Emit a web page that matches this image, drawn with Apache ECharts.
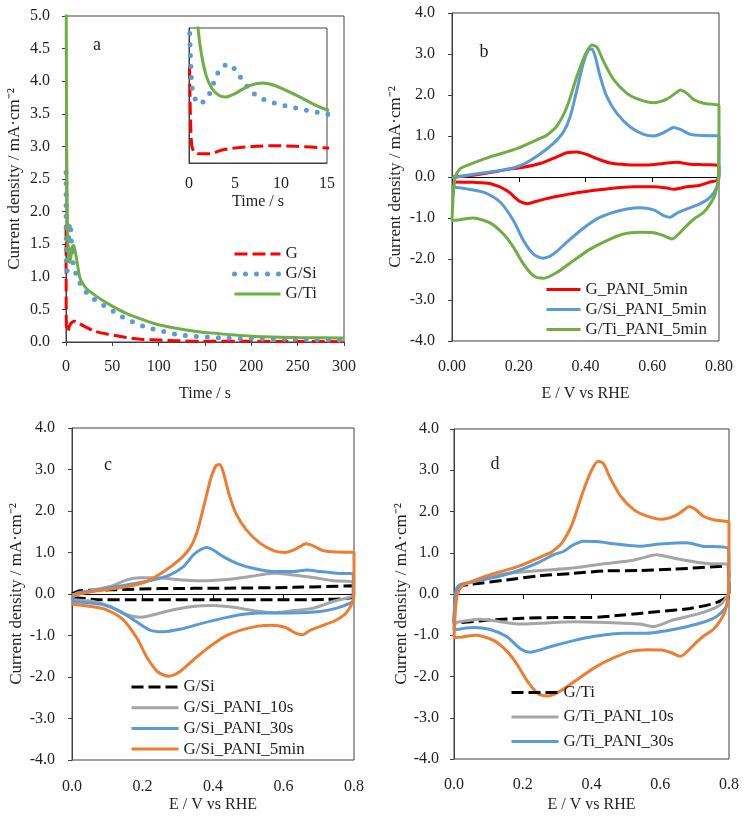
<!DOCTYPE html>
<html><head><meta charset="utf-8">
<script src="https://cdn.jsdelivr.net/npm/echarts@6.0.0/dist/echarts.min.js"></script>
<style>html,body{margin:0;padding:0;background:#fff}#c{width:745px;height:817px}</style>
</head><body><div id="c"></div>
<script>
// ---------- Panel a: chronoamperometry (time s, current mA/cm2) ----------
const gCA = [[0.05,1.8],[0.15,0.9],[0.3,0.32],[0.6,0.2],[1.1,0.17],[2.2,0.17],[3.6,0.24],[5.1,0.28],[7.3,0.31],[9.5,0.32],[11.6,0.31],[14.9,0.28],[20,0.24],[30,0.17],[45,0.12],[65,0.07],[83,0.04],[101,0.03],[119,0.02],[145,0.01],[200,0.01],[300,0.005]];
const siCA = [[0.05,2.6],[0.15,2.0],[0.3,1.46],[0.5,1.25],[1.1,1.09],[2.0,1.21],[2.5,1.40],[2.9,1.58],[3.5,1.77],[4.45,1.83],[5.26,1.66],[5.99,1.50],[6.72,1.33],[7.7,1.21],[8.84,1.13],[10.0,1.08],[11.2,1.03],[12.4,0.99],[13.6,0.95],[14.8,0.91],[18.7,0.81],[27.7,0.69],[37.4,0.58],[45.7,0.53],[54.7,0.43],[65.5,0.35],[76.3,0.28],[87.8,0.22],[99.6,0.18],[111.5,0.14],[123,0.11],[135.6,0.09],[146,0.08],[175,0.06],[200,0.05],[250,0.04],[300,0.03]];
const tiCA = [[0.1,6.0],[0.5,3.6],[0.98,2.5],[1.34,2.03],[1.9,1.6],[2.5,1.38],[3.2,1.26],[3.97,1.22],[5.06,1.29],[6.5,1.43],[8.0,1.48],[9.4,1.43],[11.6,1.26],[13.4,1.10],[14.9,0.99],[17,0.92],[22,0.82],[33,0.70],[47.5,0.57],[65,0.44],[83.5,0.34],[101,0.26],[119,0.21],[137,0.17],[155,0.14],[200,0.09],[250,0.07],[300,0.06]];
const caXTicks = [0,300,50];
const insetXTicks = [0,15,5];

// ---------- CV curves (E / V vs RHE, current mA/cm2) ----------
const gPani5 = [[0,0],[0.064,0.04],[0.164,0.18],[0.214,0.24],[0.264,0.33],[0.314,0.49],[0.344,0.59],[0.374,0.61],[0.404,0.55],[0.434,0.45],[0.474,0.34],[0.524,0.30],[0.584,0.29],[0.634,0.33],[0.674,0.36],[0.714,0.31],[0.754,0.30],[0.8,0.28],
  [0.8,0.08],[0.794,-0.08],[0.774,-0.12],[0.744,-0.2],[0.704,-0.24],[0.664,-0.3],[0.644,-0.27],[0.604,-0.24],[0.544,-0.24],[0.464,-0.29],[0.384,-0.37],[0.304,-0.49],[0.254,-0.59],[0.226,-0.65],[0.204,-0.6],[0.164,-0.33],[0.114,-0.16],[0.064,-0.13],[0,-0.12]];
const siPani5 = [[0,-0.02],[0.064,0.065],[0.164,0.19],[0.214,0.31],[0.264,0.56],[0.304,0.82],[0.334,1.10],[0.354,1.47],[0.374,2.12],[0.394,2.79],[0.409,3.10],[0.419,3.12],[0.429,2.94],[0.444,2.45],[0.464,1.96],[0.494,1.55],[0.534,1.22],[0.574,1.04],[0.604,1.0],[0.634,1.08],[0.664,1.21],[0.684,1.16],[0.714,1.04],[0.754,1.01],[0.8,1.0],
  [0.8,0.0],[0.794,-0.24],[0.774,-0.49],[0.744,-0.65],[0.704,-0.78],[0.674,-0.88],[0.654,-0.98],[0.634,-0.94],[0.604,-0.8],[0.564,-0.75],[0.524,-0.78],[0.484,-0.86],[0.434,-1.02],[0.384,-1.31],[0.344,-1.59],[0.304,-1.88],[0.274,-1.98],[0.244,-1.88],[0.214,-1.55],[0.184,-1.06],[0.144,-0.61],[0.094,-0.37],[0.044,-0.29],[0,-0.24]];
const tiPani5 = [[0,-1.06],[0.004,-0.41],[0.01,0.0],[0.024,0.20],[0.044,0.28],[0.114,0.49],[0.194,0.69],[0.264,0.94],[0.284,1.02],[0.314,1.24],[0.344,1.70],[0.374,2.45],[0.399,2.98],[0.419,3.22],[0.434,3.17],[0.454,2.82],[0.484,2.38],[0.524,2.04],[0.564,1.88],[0.604,1.81],[0.644,1.90],[0.669,2.04],[0.684,2.12],[0.704,2.04],[0.724,1.89],[0.754,1.80],[0.796,1.76],[0.8,1.73],
  [0.798,0.0],[0.789,-0.41],[0.774,-0.65],[0.754,-0.86],[0.729,-1.0],[0.704,-1.18],[0.684,-1.35],[0.659,-1.51],[0.634,-1.43],[0.604,-1.36],[0.564,-1.35],[0.514,-1.39],[0.464,-1.55],[0.414,-1.76],[0.364,-2.04],[0.314,-2.33],[0.274,-2.47],[0.244,-2.41],[0.214,-2.12],[0.184,-1.71],[0.154,-1.39],[0.114,-1.12],[0.064,-1.0],[0.024,-1.04],[0,-1.06]];
const siBare = [[0,0],[0.023,0.08],[0.108,0.10],[0.25,0.13],[0.439,0.14],[0.628,0.16],[0.798,0.20],
  [0.798,-0.06],[0.722,-0.13],[0.533,-0.14],[0.344,-0.14],[0.155,-0.14],[0.061,-0.13],[0,-0.08]];
const siPani10 = [[0,-0.06],[0.061,0.10],[0.108,0.18],[0.155,0.34],[0.193,0.39],[0.240,0.39],[0.297,0.35],[0.363,0.32],[0.439,0.35],[0.505,0.42],[0.571,0.50],[0.628,0.46],[0.685,0.40],[0.741,0.32],[0.798,0.28],
  [0.798,-0.02],[0.741,-0.18],[0.685,-0.34],[0.628,-0.40],[0.571,-0.45],[0.514,-0.40],[0.458,-0.32],[0.401,-0.28],[0.344,-0.30],[0.287,-0.38],[0.231,-0.50],[0.193,-0.56],[0.155,-0.50],[0.108,-0.30],[0.061,-0.18],[0,-0.14]];
const siPani30 = [[0,-0.14],[0.013,0.02],[0.061,0.08],[0.155,0.22],[0.231,0.34],[0.278,0.46],[0.316,0.66],[0.344,0.94],[0.363,1.06],[0.382,1.12],[0.401,1.06],[0.429,0.90],[0.467,0.74],[0.514,0.62],[0.571,0.54],[0.628,0.54],[0.666,0.58],[0.704,0.54],[0.751,0.50],[0.798,0.48],
  [0.798,-0.14],[0.789,-0.22],[0.751,-0.34],[0.704,-0.42],[0.647,-0.45],[0.590,-0.46],[0.533,-0.46],[0.477,-0.5],[0.42,-0.6],[0.363,-0.72],[0.306,-0.85],[0.259,-0.91],[0.221,-0.87],[0.183,-0.67],[0.136,-0.42],[0.089,-0.26],[0.042,-0.21],[0,-0.18]];
const tiBare = [[0,-0.71],[0.005,0.0],[0.017,0.18],[0.056,0.24],[0.153,0.34],[0.25,0.44],[0.347,0.50],[0.444,0.56],[0.54,0.57],[0.637,0.60],[0.797,0.68],
  [0.8,0.0],[0.763,-0.21],[0.686,-0.35],[0.589,-0.43],[0.492,-0.51],[0.395,-0.57],[0.298,-0.57],[0.201,-0.59],[0.105,-0.63],[0,-0.71]];
const tiPani10 = [[0,-0.7],[0.003,-0.15],[0.01,0.14],[0.017,0.22],[0.056,0.30],[0.105,0.42],[0.153,0.50],[0.25,0.57],[0.347,0.63],[0.444,0.74],[0.521,0.82],[0.56,0.90],[0.589,0.95],[0.628,0.89],[0.676,0.81],[0.734,0.74],[0.797,0.72],
  [0.8,0.18],[0.798,0.0],[0.773,-0.27],[0.715,-0.47],[0.637,-0.63],[0.579,-0.79],[0.54,-0.73],[0.444,-0.69],[0.347,-0.67],[0.25,-0.71],[0.192,-0.73],[0.134,-0.67],[0.076,-0.61],[0,-0.7]];
const tiPani30 = [[0,-0.87],[0.003,-0.15],[0.008,0.14],[0.017,0.22],[0.046,0.28],[0.105,0.38],[0.153,0.48],[0.201,0.61],[0.25,0.78],[0.289,0.95],[0.318,1.03],[0.347,1.19],[0.376,1.28],[0.415,1.27],[0.473,1.21],[0.54,1.16],[0.599,1.21],[0.676,1.24],[0.724,1.16],[0.797,1.11],
  [0.8,0.66],[0.798,0.02],[0.792,-0.31],[0.763,-0.55],[0.715,-0.71],[0.657,-0.83],[0.618,-0.89],[0.56,-0.95],[0.492,-0.95],[0.405,-1.03],[0.347,-1.13],[0.279,-1.28],[0.221,-1.41],[0.192,-1.32],[0.153,-1.03],[0.105,-0.86],[0.056,-0.81],[0,-0.87]];
const cvXTicks = [0,0.8,0.2];
const cvYTicks = [-4,4,1];

const legendA = ['G','G/Si','G/Ti'];
const legendB = ['G_PANI_5min','G/Si_PANI_5min','G/Ti_PANI_5min'];
const ZW = '\u200b';
const legendC = ['G/Si'+ZW,'G/Si_PANI_10s','G/Si_PANI_30s','G/Si_PANI_5min'+ZW];
const legendD = ['G/Ti'+ZW,'G/Ti_PANI_10s','G/Ti_PANI_30s'];

const FONT = 'Liberation Serif';
const TXT = '#1f1f1f';
const AX = '#404040';
const C = {red:'#FF0000', blue:'#5B9BD5', green:'#70AD47', orange:'#ED7D31', gray:'#A5A5A5', black:'#000000'};

function ax(extra){
  return Object.assign({
    type:'value', splitLine:{show:false},
    axisLine:{show:true, onZero:false, lineStyle:{color:AX, width:1}},
    axisTick:{show:true, inside:false, length:4, lineStyle:{color:AX}},
    axisLabel:{fontFamily:FONT, fontSize:16, color:TXT},
    nameTextStyle:{fontFamily:FONT, fontSize:16, color:TXT}
  }, extra);
}
function yTitle(gap){
  return {name:'Current density / mA\u00B7cm\u207B\u00B2', nameLocation:'middle', nameGap:gap, nameRotate:90,
    nameTextStyle:{fontFamily:FONT, fontSize:17, color:TXT}};
}
const f1 = v => v.toFixed(1), f2 = v => v.toFixed(2);

function gridOf(l,t,w,h,bg){return {left:l, top:t, width:w, height:h, show:true, borderColor:AX, borderWidth:1, backgroundColor:bg||'transparent', containLabel:false};}

const xAxes = [
  ax({gridIndex:0, position:'bottom', min:caXTicks[0], max:caXTicks[1], interval:caXTicks[2], axisLabel:{fontFamily:FONT,fontSize:16,color:TXT,margin:17}, name:'Time / s', nameLocation:'middle', nameGap:44}),
  ax({gridIndex:1, position:'bottom', min:insetXTicks[0], max:insetXTicks[1], interval:insetXTicks[2], axisTick:{show:false}, axisLabel:{fontFamily:FONT,fontSize:16,color:TXT,margin:13}, name:'Time / s', nameLocation:'middle', nameGap:31}),
];
const yAxes = [
  ax(Object.assign({gridIndex:0, min:0, max:5, interval:0.5, axisLabel:{fontFamily:FONT,fontSize:16,color:TXT,margin:16,formatter:f1}}, yTitle(43))),
  ax({gridIndex:1, min:0, max:2.5, interval:0.5, axisTick:{show:false}, axisLabel:{show:false}}),
];
// [gridIndex, yTitleGap, xLabelMargin, yLabelMargin, xTitleGap]
const cvGrids = [[2,48,18,17,45],[3,47,19,17,37],[4,42,18,15,38]];
cvGrids.forEach(([gi, ygap, lm, ym, xg]) => {
  const fmt = gi===2 ? f2 : f1;
  xAxes.push(ax({gridIndex:gi, position:'bottom', min:cvXTicks[0], max:cvXTicks[1], interval:cvXTicks[2],
    axisLine:{show:true, onZero:true, lineStyle:{color:'#000', width:1}}, axisTick:{show:true, length:5, lineStyle:{color:'#000'}}, axisLabel:{show:false}}));
  xAxes.push(ax({gridIndex:gi, position:'bottom', min:cvXTicks[0], max:cvXTicks[1], interval:cvXTicks[2],
    axisLine:{show:false, onZero:false}, axisTick:{show:false},
    axisLabel:{fontFamily:FONT,fontSize:16,color:TXT,margin:lm,formatter:fmt},
    name:'E / V vs RHE', nameLocation:'middle', nameGap:xg}));
  yAxes.push(ax(Object.assign({gridIndex:gi, min:cvYTicks[0], max:cvYTicks[1], interval:cvYTicks[2],
    axisLabel:{fontFamily:FONT,fontSize:16,color:TXT,margin:ym,formatter:f1}}, yTitle(ygap))));
});

function ln(name, data, xi, yi, color, width, type, cap){
  return {type:'line', name, data, xAxisIndex:xi, yAxisIndex:yi, symbol:'none', smooth:0.25, clip:true,
    lineStyle:{color, width, type:type||'solid', cap:cap||'butt'}, itemStyle:{color}, emphasis:{disabled:true}, z:3};
}
const DOTS = [0,11], DASH = [13,5], DASHK = [12,5];

const series = [
  ln('G', gCA, 0,0, C.red, 3, DASH),
  ln('G/Si', siCA, 0,0, C.blue, 5, DOTS, 'round'),
  ln('G/Ti', tiCA, 0,0, C.green, 3),
  ln('G_in', gCA, 1,1, C.red, 3, DASH),
  ln('G/Si_in', siCA, 1,1, C.blue, 5, DOTS, 'round'),
  ln('G/Ti_in', tiCA, 1,1, C.green, 3),
  // b
  ln('G_PANI_5min', gPani5, 3,2, C.red, 3),
  ln('G/Si_PANI_5min', siPani5, 3,2, C.blue, 3),
  ln('G/Ti_PANI_5min', tiPani5, 3,2, C.green, 3),
  // c
  ln('G/Si'+ZW, siBare, 5,3, C.black, 3, DASHK),
  ln('G/Si_PANI_10s', siPani10, 5,3, C.gray, 3),
  ln('G/Si_PANI_30s', siPani30, 5,3, C.blue, 3),
  ln('G/Si_PANI_5min'+ZW, siPani5, 5,3, C.orange, 3),
  // d
  ln('G/Ti'+ZW, tiBare, 7,4, C.black, 3, DASHK),
  ln('G/Ti_PANI_10s', tiPani10, 7,4, C.gray, 3),
  ln('G/Ti_PANI_30s', tiPani30, 7,4, C.blue, 3),
  ln('G/Ti_PANI_5min'+ZW, tiPani5, 7,4, C.orange, 3),
];
const seriesByName = {};
series.forEach(s => { seriesByName[s.name] = s; });

function lg(names, left, top, w, gap){
  const data = names.map(n => {
    const s = seriesByName[n];
    return {name:n, lineStyle:{width:s.lineStyle.width, type:s.lineStyle.type, cap:s.lineStyle.cap, color:s.lineStyle.color}};
  });
  return {data, left, top, orient:'vertical', itemWidth:w, itemHeight:14, itemGap:gap, padding:0, selectedMode:false,
    itemStyle:{color:'rgba(0,0,0,0)', borderColor:'rgba(0,0,0,0)', borderWidth:0},
    formatter: n => n.replace(ZW,''), textStyle:{fontFamily:FONT, fontSize:17, color:TXT}};
}

const letters = [['a',97,45],['b',484,52],['c',108,465],['d',495,464]].map(([t,x,y]) => ({
  type:'text', x, y, style:{text:t, font:'18px "Liberation Serif"', fill:TXT, textAlign:'center', textVerticalAlign:'middle'}
}));

const chart = echarts.init(document.getElementById('c'), null, {renderer:'canvas'});
chart.setOption({
  animation:false, backgroundColor:'#fff',
  grid:[gridOf(66,16,278,326), gridOf(189,28,138,135,'#fff'), gridOf(452,13,267,328), gridOf(72,428,282,332), gridOf(454,429,275,330)],
  xAxis:xAxes, yAxis:yAxes, series,
  legend:[lg(legendA,232,245.5,46,3), lg(legendB,545,281,34,3), lg(legendC,130,678.5,47,3.7), lg(legendD,510,684,47,7.5)],
  graphic:letters
});
</script></body></html>
